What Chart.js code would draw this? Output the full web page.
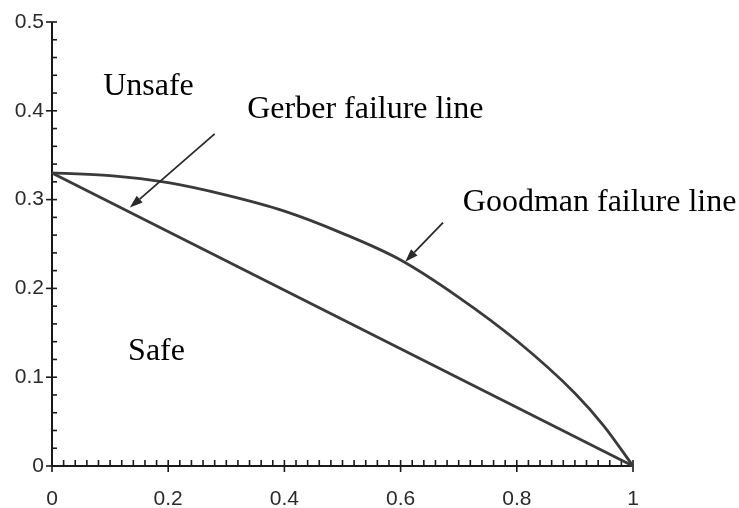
<!DOCTYPE html>
<html>
<head>
<meta charset="utf-8">
<script src="https://cdn.jsdelivr.net/npm/chart.js@4/dist/chart.umd.min.js"></script>
<style>
  html, body { margin: 0; padding: 0; background: #fff; }
  #wrap { width: 739px; height: 508px; }
</style>
</head>
<body>
<div id="wrap"><canvas id="c" width="739" height="508"></canvas></div>
<script>
// Stress ratios along each failure line
const curveX    = [0, 0.1, 0.2, 0.3, 0.4, 0.5, 0.6, 0.7, 0.8, 0.9, 0.95, 1];
const curveY    = [0.330, 0.327, 0.319, 0.305, 0.287, 0.262, 0.232, 0.190, 0.141, 0.082, 0.045, 0];
const straightX = [0, 1];
const straightY = [0.330, 0];

// Axis tick labels
const xTickLabels = ['0', '0.2', '0.4', '0.6', '0.8', '1'];
const yTickLabels = ['0', '0.1', '0.2', '0.3', '0.4', '0.5'];
const xMajorStep = 0.2, yMajorStep = 0.1, minorStep = 0.02;

// Region names and line captions
const captions = ['Unsafe', 'Gerber failure line', 'Goodman failure line', 'Safe'];

const captionPlace = [
  { x: 0.088, y: 0.427 },
  { x: 0.336, y: 0.401 },
  { x: 0.707, y: 0.2965 },
  { x: 0.131, y: 0.1285 }
];
const arrows = [
  { from: { x: 0.280, y: 0.374 }, to: { x: 0.134, y: 0.291 } },
  { from: { x: 0.673, y: 0.274 }, to: { x: 0.608, y: 0.230 } }
];

const toPoints = (xs, ys) => xs.map((x, i) => ({ x: x, y: ys[i] }));

const axesPlugin = {
  id: 'plainAxes',
  beforeDatasetsDraw(chart) {
    const ctx = chart.ctx, xs = chart.scales.x, ys = chart.scales.y;
    const x0 = xs.getPixelForValue(0), x1 = xs.getPixelForValue(1);
    const y0 = ys.getPixelForValue(0), y1 = ys.getPixelForValue(0.5);
    ctx.save();
    ctx.strokeStyle = '#1a1a1a';
    ctx.lineWidth = 2;
    ctx.beginPath();
    ctx.moveTo(x0, y1); ctx.lineTo(x0, y0); ctx.lineTo(x1, y0);
    ctx.stroke();

    ctx.lineWidth = 1.6;
    // x ticks: majors cross the axis, minors point into the plot
    const nx = Math.round(1 / minorStep);
    for (let i = 0; i <= nx; i++) {
      const v = i * minorStep, px = xs.getPixelForValue(v);
      const major = i % Math.round(xMajorStep / minorStep) === 0;
      ctx.beginPath();
      ctx.moveTo(px, major ? y0 + 6 : y0);
      ctx.lineTo(px, y0 - 6);
      ctx.stroke();
    }
    // y ticks
    const ny = Math.round(0.5 / minorStep);
    for (let i = 0; i <= ny; i++) {
      const v = i * minorStep, py = ys.getPixelForValue(v);
      const major = i % Math.round(yMajorStep / minorStep) === 0;
      ctx.beginPath();
      ctx.moveTo(major ? x0 - 6 : x0, py);
      ctx.lineTo(x0 + 5, py);
      ctx.stroke();
    }

    ctx.fillStyle = '#2b2b2b';
    ctx.font = '21px "Liberation Sans", Arial, sans-serif';
    ctx.textAlign = 'center';
    ctx.textBaseline = 'middle';
    xTickLabels.forEach((t, i) => {
      ctx.fillText(t, xs.getPixelForValue(i * xMajorStep), y0 + 33);
    });
    ctx.textAlign = 'right';
    yTickLabels.forEach((t, i) => {
      ctx.fillText(t, x0 - 8, ys.getPixelForValue(i * yMajorStep));
    });
    ctx.restore();
  },
  afterDatasetsDraw(chart) {
    const ctx = chart.ctx, xs = chart.scales.x, ys = chart.scales.y;
    ctx.save();
    ctx.fillStyle = '#000';
    ctx.font = '32px "Liberation Serif", "Times New Roman", serif';
    ctx.textAlign = 'left';
    ctx.textBaseline = 'middle';
    captions.forEach((t, i) => {
      ctx.fillText(t, xs.getPixelForValue(captionPlace[i].x), ys.getPixelForValue(captionPlace[i].y));
    });

    ctx.strokeStyle = '#2a2a2a';
    ctx.fillStyle = '#2a2a2a';
    ctx.lineWidth = 1.8;
    arrows.forEach(a => {
      const fx = xs.getPixelForValue(a.from.x), fy = ys.getPixelForValue(a.from.y);
      const tx = xs.getPixelForValue(a.to.x), ty = ys.getPixelForValue(a.to.y);
      const ang = Math.atan2(ty - fy, tx - fx);
      const len = 13, half = 4.5;
      const bx = tx - len * Math.cos(ang), by = ty - len * Math.sin(ang);
      ctx.beginPath();
      ctx.moveTo(fx, fy); ctx.lineTo(bx, by);
      ctx.stroke();
      ctx.beginPath();
      ctx.moveTo(tx, ty);
      ctx.lineTo(bx + half * Math.sin(ang), by - half * Math.cos(ang));
      ctx.lineTo(bx - half * Math.sin(ang), by + half * Math.cos(ang));
      ctx.closePath();
      ctx.fill();
    });
    ctx.restore();
  }
};

new Chart(document.getElementById('c'), {
  type: 'scatter',
  data: {
    datasets: [
      {
        data: toPoints(curveX, curveY),
        showLine: true,
        borderColor: '#3a3a3a',
        borderWidth: 2.8,
        pointRadius: 0,
        cubicInterpolationMode: 'monotone',
        clip: false
      },
      {
        data: toPoints(straightX, straightY),
        showLine: true,
        borderColor: '#3a3a3a',
        borderWidth: 2.8,
        pointRadius: 0,
        clip: false
      }
    ]
  },
  options: {
    responsive: false,
    animation: false,
    events: [],
    layout: { padding: { left: 52, right: 106, top: 22, bottom: 42 } },
    plugins: { legend: { display: false }, tooltip: { enabled: false } },
    scales: {
      x: { type: 'linear', min: 0, max: 1, display: false },
      y: { type: 'linear', min: 0, max: 0.5, display: false }
    }
  },
  plugins: [axesPlugin]
});
</script>
</body>
</html>
